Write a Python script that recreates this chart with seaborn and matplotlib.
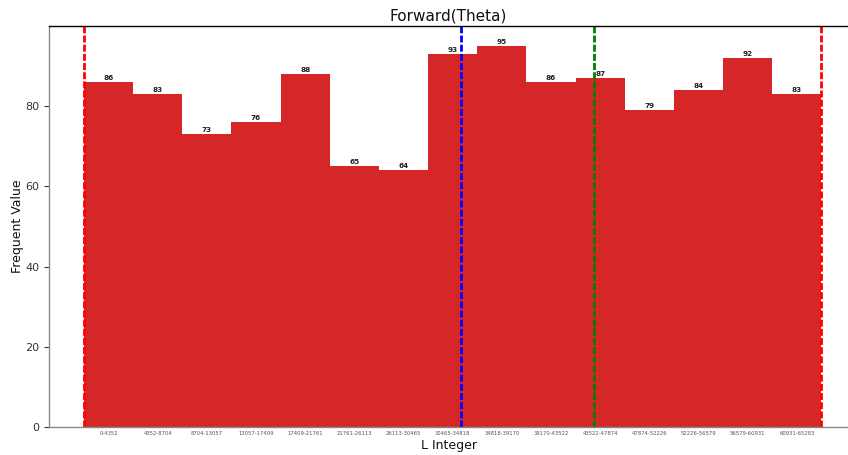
import matplotlib
matplotlib.use("Agg")
import matplotlib.pyplot as plt
import seaborn as sns
import pandas as pd

# Histogram bins of the integer L over 0..65283 (15 equal bins)
bin_labels = ["0-4352", "4352-8704", "8704-13057", "13057-17409", "17409-21761",
              "21761-26113", "26113-30465", "30465-34818", "34818-39170", "39170-43522",
              "43522-47874", "47874-52226", "52226-56579", "56579-60931", "60931-65283"]
counts = [86, 83, 73, 76, 88, 65, 64, 93, 95, 86, 87, 79, 84, 92, 83]

# Reference markers in value space
range_min = 0
range_max = 65283
mean_value = 33350
marker_value = 45110

sns.set_theme(style="white")
plt.rcParams["font.family"] = ["DejaVu Sans"]

fig = plt.figure(figsize=(8.48, 4.55), dpi=100)
ax = fig.add_axes([0.0578, 0.0615, 0.9422, 0.8813])

df = pd.DataFrame({"bin": bin_labels, "count": counts})
sns.barplot(data=df, x="bin", y="count", order=bin_labels, width=1.0,
            color="#d62728", saturation=1, edgecolor="#d62728", linewidth=0, ax=ax)

for i, c in enumerate(counts):
    ax.text(i, c + 0.3, str(c), ha="center", va="bottom", fontsize=5.2,
            fontweight="bold", color="#222222")

bin_width = (range_max - range_min) / len(counts)
def to_pos(v):
    return (v - range_min) / bin_width - 0.5

for v, col in [(range_min, "red"), (range_max, "red"),
               (mean_value, "blue"), (marker_value, "green")]:
    ax.axvline(to_pos(v), color=col, linestyle="--", linewidth=2, dashes=(2.5, 0.8))

ax.set_xlim(-1.21, 15.04)
ax.set_ylim(0, 100)
ax.set_yticks([0, 20, 40, 60, 80])
ax.tick_params(axis="y", labelsize=8, length=3.5, width=0.8, left=True, colors="#333333")
ax.tick_params(axis="x", labelsize=3.8, length=0, pad=3, colors="#555555")

ax.set_title("Forward(Theta)", fontsize=11, color="#111111", pad=4)
ax.set_xlabel("L Integer", fontsize=9, color="#111111", labelpad=2)
ax.set_ylabel("Frequent Value", fontsize=9, color="#111111", labelpad=0.5)

ax.spines["right"].set_visible(False)
ax.spines["top"].set_color("black")
ax.spines["top"].set_linewidth(1.0)
for s in ("left", "bottom"):
    ax.spines[s].set_color("#888888")
    ax.spines[s].set_linewidth(1.0)

fig.savefig("out.png", dpi=100)
